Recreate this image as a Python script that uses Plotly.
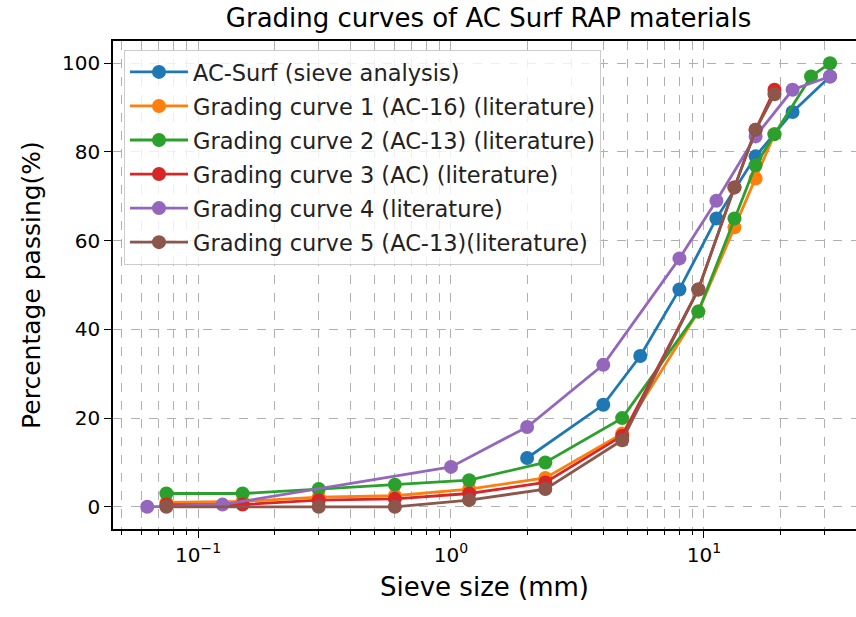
import plotly.graph_objects as go

# ---- data ----
ac_surf_x = [2.0, 4.0, 5.6, 8.0, 11.2, 16, 22.4, 31.5]
ac_surf_y = [11, 23, 34, 49, 65, 79, 89, 97]

gc1_x = [0.075, 0.15, 0.3, 0.6, 1.18, 2.36, 4.75, 9.5, 13.2, 16, 19]
gc1_y = [1.0, 1.2, 2.2, 2.5, 4.0, 6.5, 16.5, 44, 63, 74, 84]

gc2_x = [0.075, 0.15, 0.3, 0.6, 1.18, 2.36, 4.75, 9.5, 13.2, 16, 19, 26.5, 31.5]
gc2_y = [3, 3, 4, 5, 6, 10, 20, 44, 65, 77, 84, 97, 100]

gc3_x = [0.075, 0.15, 0.3, 0.6, 1.18, 2.36, 4.75, 9.5, 13.2, 16, 19]
gc3_y = [0.5, 0.5, 1.5, 1.8, 3.0, 5.5, 16, 49, 72, 85, 94]

gc4_x = [0.063, 0.125, 1.0, 2.0, 4.0, 8.0, 11.2, 16, 22.4, 31.5]
gc4_y = [0, 0.5, 9, 18, 32, 56, 69, 83.5, 94, 97]

gc5_x = [0.075, 0.3, 0.6, 1.18, 2.36, 4.75, 9.5, 13.2, 16, 19]
gc5_y = [0, 0, 0, 1.5, 4, 15, 49, 72, 85, 93]

series_names = [
    "AC-Surf (sieve analysis)",
    "Grading curve 1 (AC-16) (literature)",
    "Grading curve 2 (AC-13) (literature)",
    "Grading curve 3 (AC) (literature)",
    "Grading curve 4 (literature)",
    "Grading curve 5 (AC-13)(literature)",
]
colors = ["#1f77b4", "#ff7f0e", "#2ca02c", "#d62728", "#9467bd", "#8c564b"]

y_ticks = [0, 20, 40, 60, 80, 100]
x_major_ticks = [0.1, 1, 10]
x_major_labels = ["10<sup>\u22121</sup>", "10<sup>0</sup>", "10<sup>1</sup>"]

xs = [ac_surf_x, gc1_x, gc2_x, gc3_x, gc4_x, gc5_x]
ys = [ac_surf_y, gc1_y, gc2_y, gc3_y, gc4_y, gc5_y]

fig = go.Figure()
for i, (name, c, x, y) in enumerate(zip(series_names, colors, xs, ys)):
    fig.add_trace(go.Scatter(
        x=x, y=y, name=name, mode="lines+markers",
        legendgroup="g%d" % i,
        line=dict(color=c, width=2.8),
        marker=dict(color=c, size=14, symbol="circle"),
    ))

minor_vals = [k * 10.0 ** e for e in range(-2, 2) for k in range(2, 10)]

font_family = "DejaVu Sans"
grid_col = "#b0b0b0"

fig.update_layout(
    width=856, height=617,
    margin=dict(l=113, r=0, t=41, b=88),
    paper_bgcolor="white", plot_bgcolor="white",
    font=dict(family=font_family, color="black", size=20),
    title=dict(
        text="Grading curves of AC Surf RAP materials",
        x=0.5054, xref="paper", xanchor="center",
        y=1 - 18 / 617, yref="container", yanchor="middle",
        font=dict(size=26, family=font_family, color="black"),
    ),
    showlegend=True,
    legend=dict(
        x=0.0148, y=0.982, xanchor="left", yanchor="top",
        xref="paper", yref="paper",
        bgcolor="rgba(255,255,255,0.8)",
        bordercolor="#cccccc", borderwidth=1,
        font=dict(size=22.5, family=font_family, color="#222222"),
        tracegroupgap=1.8,
        itemwidth=58,
    ),
)

fig.update_xaxes(
    type="log",
    range=[-1.336, 1.601],
    tickmode="array", tickvals=x_major_ticks, ticktext=x_major_labels,
    ticks="outside", ticklen=7, tickwidth=1.3, tickcolor="black",
    showgrid=True, gridcolor=grid_col, griddash="dash", gridwidth=1.2,
    minor=dict(tickvals=minor_vals, ticks="outside", ticklen=4, tickwidth=1,
               tickcolor="black", showgrid=True, gridcolor=grid_col,
               griddash="dash", gridwidth=1.2),
    showline=True, linecolor="black", linewidth=1.5, mirror=True,
    zeroline=False,
    title=dict(text="Sieve size (mm)", font=dict(size=26, family=font_family),
               standoff=12),
    tickfont=dict(size=20, family=font_family),
)

fig.update_yaxes(
    range=[-5, 105],
    tickmode="array", tickvals=y_ticks,
    ticks="outside", ticklen=7, tickwidth=1.3, tickcolor="black",
    showgrid=True, gridcolor=grid_col, griddash="dash", gridwidth=1.2,
    showline=True, linecolor="black", linewidth=1.5, mirror=False,
    zeroline=False,
    title=dict(text="Percentage passing(%)", font=dict(size=25, family=font_family),
               standoff=14),
    tickfont=dict(size=20, family=font_family),
)

fig.write_html("out.html")
